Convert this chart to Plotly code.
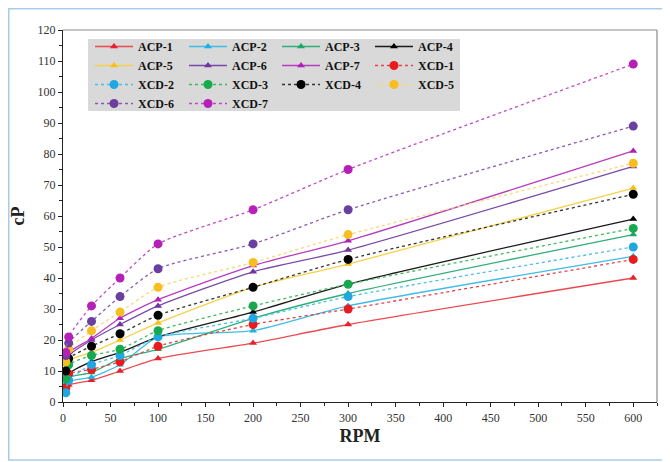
import plotly.graph_objects as go

rpm = [3, 6, 30, 60, 100, 200, 300, 600]

acp_1 = [4.5, 5.5, 7, 10, 14, 19, 25, 40]
acp_2 = [4, 6.5, 8, 12, 21, 23, 31, 47]
acp_3 = [6, 8, 9.5, 14, 17, 27, 35, 54]
acp_4 = [5, 9, 13, 16, 21, 29, 38, 59]
acp_5 = [12, 13.5, 16, 20, 25.5, 37, 44.5, 69]
acp_6 = [13, 15, 20, 25, 31, 42, 49, 76]
acp_7 = [14, 16, 20.5, 27, 33, 44, 52, 81]
xcd_1 = [4.5, 9, 10.5, 13, 18, 25, 30, 46]
xcd_2 = [3, 7, 12, 15, 21, 27, 34, 50]
xcd_3 = [7.5, 12, 15, 17, 23, 31, 38, 56]
xcd_4 = [10, 14, 18, 22, 28, 37, 46, 67]
xcd_5 = [13, 17, 23, 29, 37, 45, 54, 77]
xcd_6 = [15, 19, 26, 34, 43, 51, 62, 89]
xcd_7 = [16, 21, 31, 40, 51, 62, 75, 109]

acp_names = ["ACP-1", "ACP-2", "ACP-3", "ACP-4", "ACP-5", "ACP-6", "ACP-7"]
xcd_names = ["XCD-1", "XCD-2", "XCD-3", "XCD-4", "XCD-5", "XCD-6", "XCD-7"]
acp_vals = [acp_1, acp_2, acp_3, acp_4, acp_5, acp_6, acp_7]
xcd_vals = [xcd_1, xcd_2, xcd_3, xcd_4, xcd_5, xcd_6, xcd_7]

acp_line = ["#ec4a4f", "#3fbde8", "#2fae78", "#1a1a1a", "#f6d24a", "#7a4aa8", "#b73cc0"]
acp_mark = ["#e8202a", "#1fb0e6", "#1aa868", "#000000", "#f7bf1a", "#6f34a0", "#b01fb8"]
xcd_line = ["#e8404a", "#49bfe8", "#3fbb5a", "#333333", "#f8d878", "#8a5ab0", "#c04ac4"]
xcd_mark = ["#e81c1c", "#1ea7e1", "#18a84e", "#000000", "#f8bd1e", "#6a3fa0", "#b620b8"]

traces = []
for i in range(7):
    traces.append((acp_names[i], acp_vals[i], acp_line[i], acp_mark[i], "solid", "triangle-up", 7))
for i in range(7):
    traces.append((xcd_names[i], xcd_vals[i], xcd_line[i], xcd_mark[i], "dot", "circle", 9))

# legend laid out as 4 columns, filled row by row
legend_ids = ["legend", "legend2", "legend3", "legend4"]

fig = go.Figure()
for k, (name, vals, lc, mc, dash, sym, ms) in enumerate(traces):
    fig.add_trace(go.Scatter(
        x=rpm, y=vals, name=name, mode="lines+markers",
        line=dict(color=lc, width=1.3, dash=dash, shape="spline", smoothing=0.6),
        marker=dict(color=mc, symbol=sym, size=ms),
        legend=legend_ids[k % 4],
    ))

font_family = "Liberation Serif"
leg_font = dict(family=font_family, size=12, color="#111111", weight="bold")
col_x = [0.0455, 0.2037, 0.3603, 0.5168]
leg_y = 0.9946

legend_layout = {}
for i, lid in enumerate(legend_ids):
    legend_layout[lid] = dict(
        orientation="v", x=col_x[i], y=leg_y, xanchor="left", yanchor="top",
        bgcolor="rgba(0,0,0,0)", font=leg_font, itemwidth=38,
        tracegroupgap=0,
    )

fig.update_layout(
    width=662, height=454,
    margin=dict(l=55, r=13, t=22, b=60, autoexpand=False),
    paper_bgcolor="white", plot_bgcolor="white",
    font=dict(family=font_family, color="#333333"),
    showlegend=True,
    **legend_layout,
    xaxis=dict(
        range=[0, 625], dtick=50, tick0=0, ticks="outside", ticklen=4,
        tickcolor="#222", showline=True, linecolor="#222", linewidth=1.2,
        showgrid=False, zeroline=False, automargin=False,
        tickfont=dict(size=12, family=font_family, color="#333"),
        minor=dict(ticks="outside", dtick=25, ticklen=3, tickcolor="#222"),
        title=dict(text="<b>RPM</b>", font=dict(size=18, family=font_family, color="#222"), standoff=5),
    ),
    yaxis=dict(
        range=[0, 120], dtick=10, tick0=0, ticks="outside", ticklen=4,
        tickcolor="#222", showline=True, linecolor="#222", linewidth=1.2,
        showgrid=False, zeroline=False, automargin=False,
        tickfont=dict(size=12, family=font_family, color="#333"),
        minor=dict(ticks="outside", dtick=5, ticklen=3, tickcolor="#222"),
        title=dict(text="<b>cP</b>", font=dict(size=18, family=font_family, color="#222"), standoff=12),
    ),
    shapes=[
        dict(type="line", xref="paper", yref="paper", x0=0, x1=1, y0=1, y1=1,
             line=dict(color="#8a8a8a", width=1.2)),
        dict(type="line", xref="paper", yref="paper", x0=1, x1=1, y0=0, y1=1,
             line=dict(color="#8a8a8a", width=1.2)),
        dict(type="rect", xref="paper", yref="paper", x0=0.0421, x1=0.6684, y0=0.7823, y1=0.9758,
             fillcolor="#d9d9d9", line=dict(width=0), layer="above"),
        dict(type="rect", xref="paper", yref="paper", x0=-0.0913, x1=1.0118, y0=-0.156, y1=1.0571,
             line=dict(color="#a9cbe8", width=1.5), layer="below"),
    ],
)

fig.write_html("out.html")
